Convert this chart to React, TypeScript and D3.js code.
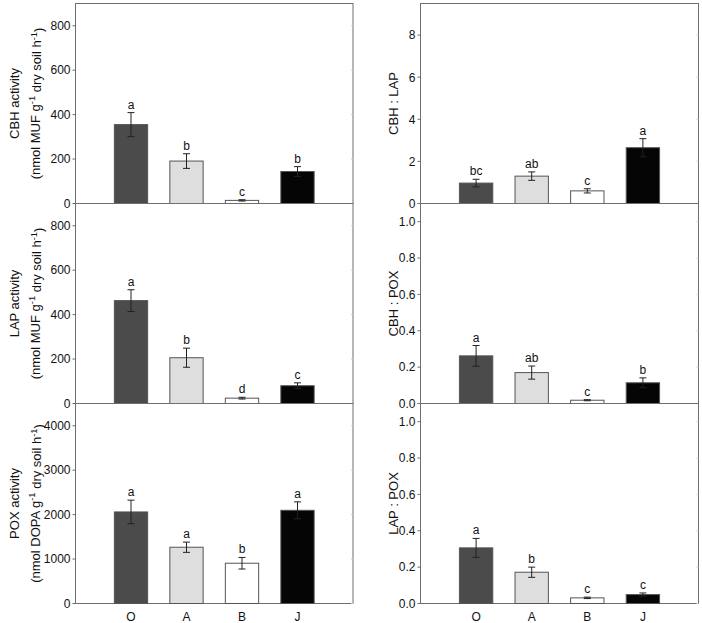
import React from "react";
import * as d3 from "d3";

const categories = ["O", "A", "B", "J"];
const barFills = ["#4b4b4b", "#dedede", "#ffffff", "#050505"];

const cbhVals = [355, 191, 14, 144];
const cbhErr = [54, 33, 3, 22];
const cbhLetters = ["a", "b", "c", "b"];

const lapVals = [463, 206, 24, 80];
const lapErr = [49, 43, 4, 13];
const lapLetters = ["a", "b", "d", "c"];

const poxVals = [2060, 1266, 906, 2097];
const poxErr = [265, 115, 130, 190];
const poxLetters = ["a", "a", "b", "a"];

const cbhLapVals = [0.97, 1.3, 0.6, 2.65];
const cbhLapErr = [0.18, 0.2, 0.1, 0.43];
const cbhLapLetters = ["bc", "ab", "c", "a"];

const cbhPoxVals = [0.262, 0.17, 0.018, 0.114];
const cbhPoxErr = [0.057, 0.036, 0.003, 0.027];
const cbhPoxLetters = ["a", "ab", "c", "b"];

const lapPoxVals = [0.306, 0.172, 0.031, 0.049];
const lapPoxErr = [0.052, 0.028, 0.004, 0.009];
const lapPoxLetters = ["a", "b", "c", "c"];

const FONT = "'Liberation Sans', Arial, sans-serif";

type PanelDef = {
  vals: number[];
  err: number[];
  letters: string[];
  domain: [number, number];
  ticks: number[];
  fmt: (v: number) => string;
  col: number;
  row: number;
  title: string[];
};

const intFmt = d3.format("d");
const decFmt = d3.format(".1f");

const panels: PanelDef[] = [
  { vals: cbhVals, err: cbhErr, letters: cbhLetters, domain: [0, 900], ticks: [0, 200, 400, 600, 800], fmt: intFmt, col: 0, row: 0,
    title: ["CBH activity", "MUF"] },
  { vals: lapVals, err: lapErr, letters: lapLetters, domain: [0, 900], ticks: [0, 200, 400, 600, 800], fmt: intFmt, col: 0, row: 1,
    title: ["LAP activity", "MUF"] },
  { vals: poxVals, err: poxErr, letters: poxLetters, domain: [0, 4500], ticks: [0, 1000, 2000, 3000, 4000], fmt: intFmt, col: 0, row: 2,
    title: ["POX activity", "DOPA"] },
  { vals: cbhLapVals, err: cbhLapErr, letters: cbhLapLetters, domain: [0, 9.5], ticks: [0, 2, 4, 6, 8], fmt: intFmt, col: 1, row: 0,
    title: ["CBH : LAP"] },
  { vals: cbhPoxVals, err: cbhPoxErr, letters: cbhPoxLetters, domain: [0, 1.1], ticks: [0, 0.2, 0.4, 0.6, 0.8, 1.0], fmt: decFmt, col: 1, row: 1,
    title: ["CBH : POX"] },
  { vals: lapPoxVals, err: lapPoxErr, letters: lapPoxLetters, domain: [0, 1.1], ticks: [0, 0.2, 0.4, 0.6, 0.8, 1.0], fmt: decFmt, col: 1, row: 2,
    title: ["LAP : POX"] },
];

const colX: [number, number][] = [[75.5, 353], [420.5, 698.5]];
const rowY: [number, number][] = [[3.5, 203.5], [203.5, 403.5], [403.5, 603.5]];
const titleX = [[14, 35], [393]];

const FRAME = "#6e6e6e";
const TITLE_FS = 13;

function Panel({ p }: { p: PanelDef }) {
  const [x0, x1] = colX[p.col];
  const [yTop, yBot] = rowY[p.row];
  const x = d3.scaleLinear().domain([0, 5]).range([x0, x1]);
  const y = d3.scaleLinear().domain(p.domain).range([yBot, yTop]);
  const step = x(1) - x(0);
  const bw = step * 0.6;
  const cy = (yTop + yBot) / 2;
  const tx = titleX[p.col];
  return (
    <g>
      <rect x={x0} y={yTop} width={x1 - x0} height={yBot - yTop} fill="none" stroke={FRAME} strokeWidth={1} />
      {p.ticks.map((t, i) => (
        <g key={i}>
          <line x1={x0 - 3} x2={x0} y1={y(t)} y2={y(t)} stroke={FRAME} />
          <line x1={x1 - 2} x2={x1} y1={y(t)} y2={y(t)} stroke="#d0d0d0" />
          <text x={x0 - 5} y={y(t)} dy="0.36em" textAnchor="end" fontSize={12} fontFamily={FONT} fill="#111">
            {p.fmt(t)}
          </text>
        </g>
      ))}
      {p.vals.map((v, i) => {
        const cx = x(i + 1);
        const top = y(v + p.err[i]);
        return (
          <g key={i}>
            <rect x={cx - bw / 2} y={y(v)} width={bw} height={y(0) - y(v)} fill={barFills[i]} stroke="#555" strokeWidth={1} />
            <line x1={cx} x2={cx} y1={y(v - p.err[i])} y2={top} stroke="#222" strokeWidth={1} />
            <line x1={cx - 3.5} x2={cx + 3.5} y1={top} y2={top} stroke="#222" strokeWidth={1} />
            <line x1={cx - 3.5} x2={cx + 3.5} y1={y(v - p.err[i])} y2={y(v - p.err[i])} stroke="#222" strokeWidth={1} />
            <text x={cx} y={top - 4} textAnchor="middle" fontSize={12} fontFamily={FONT} fill="#111">
              {p.letters[i]}
            </text>
          </g>
        );
      })}
      {p.row === 2 &&
        categories.map((c, i) => (
          <text key={c} x={x(i + 1)} y={621} textAnchor="middle" fontSize={12} fontFamily={FONT} fill="#111">
            {c}
          </text>
        ))}
      {p.col === 0 ? (
        <g>
          <text transform={`translate(${tx[0]},${cy}) rotate(-90)`} dy="0.35em" textAnchor="middle" fontSize={TITLE_FS} fontFamily={FONT} fill="#111">
            {p.title[0]}
          </text>
          <text transform={`translate(${tx[1]},${cy}) rotate(-90)`} dy="0.35em" textAnchor="middle" fontSize={TITLE_FS} fontFamily={FONT} fill="#111">
            {`(nmol ${p.title[1]} g`}
            <tspan dy="-0.45em" fontSize={TITLE_FS * 0.72}>-1</tspan>
            <tspan dy="0.45em">{" dry soil h"}</tspan>
            <tspan dy="-0.45em" fontSize={TITLE_FS * 0.72}>-1</tspan>
            <tspan dy="0.45em">)</tspan>
          </text>
        </g>
      ) : (
        <text transform={`translate(${tx[0]},${cy}) rotate(-90)`} dy="0.35em" textAnchor="middle" fontSize={TITLE_FS} fontFamily={FONT} fill="#111">
          {p.title[0]}
        </text>
      )}
    </g>
  );
}

export default function App() {
  return (
    <svg width={702} height={623} style={{ position: "absolute", left: 0, top: 0, background: "#fff" }}>
      {panels.map((p, i) => (
        <Panel key={i} p={p} />
      ))}
    </svg>
  );
}
